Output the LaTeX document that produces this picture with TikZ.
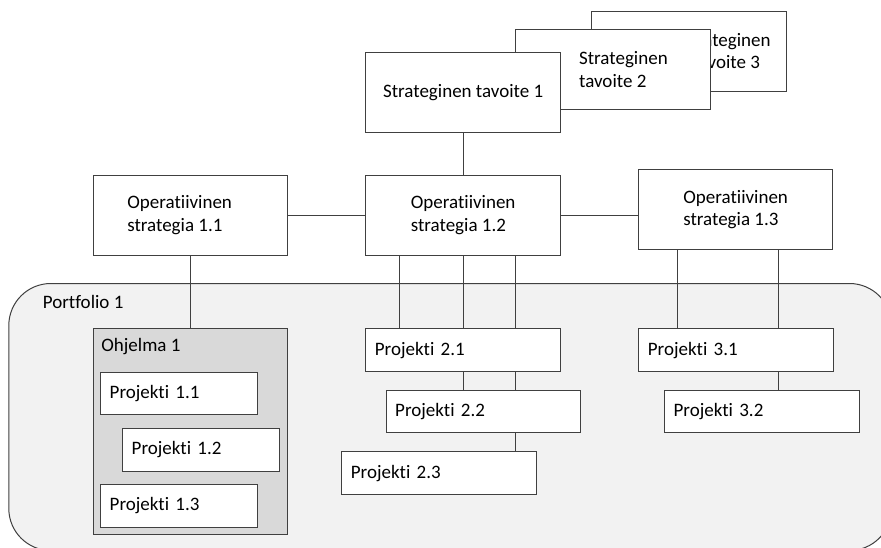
\documentclass[tikz,border=0pt]{standalone}
\usepackage{fontspec}
\setmainfont{Carlito}[Ligatures=NoCommon]
\usetikzlibrary{backgrounds}
\usetikzlibrary{positioning}
\definecolor{linegray}{HTML}{404040}
\definecolor{portfill}{HTML}{F2F2F2}
\definecolor{progfill}{HTML}{D9D9D9}

\begin{document}
\begin{tikzpicture}[
		every node/.style={font=\fontsize{19pt}{22.5pt}\selectfont},
		bigbox/.style={draw=linegray, fill=white, line width=1pt, minimum width=194.5pt, minimum height=80pt, align=left},
		projbox/.style={draw=linegray, fill=white, line width=1pt, minimum height=42.6pt, inner xsep=9pt, text width=176.5pt, align=left},
		smallbox/.style={projbox, text width=139pt},
		progbox/.style={draw=linegray, fill=progfill, line width=1pt, minimum width=194.5pt, minimum height=206pt},
		portbox/.style={draw=linegray, fill=portfill, line width=1pt, rounded corners=42pt},
		link/.style={draw=linegray, line width=1pt}
	]
	\useasboundingbox (0,0) rectangle (881pt,-547pt);

	% Portfolio area
	\begin{scope}[on background layer]
		\node[portbox, anchor=north west, minimum width=882.7pt, minimum height=267pt] (portfolio) at (8.3pt,-283pt) {};
	\end{scope}
	\node[anchor=base west, inner sep=0pt] (portlabel) at ([shift={(34.4pt,-25.7pt)}]portfolio.north west) {Portfolio 1};

	% Strategic goals, back to front
	\node[bigbox, align=center] (tav3) at (688.85pt,-51.2pt) {\hspace*{75pt}Strateginen\\\hspace*{75pt}tavoite 3};
	\node[bigbox, left=-119.8pt of tav3, yshift=-18.1pt] (tav2) {\hspace*{20.6pt}Strateginen\\\hspace*{20.6pt}tavoite 2};
	\node[bigbox, left=-45.5pt of tav2, yshift=-23pt] (tav1) {Strateginen tavoite 1};

	% Operative strategies
	\node[bigbox, below=42pt of tav1] (op12) {Operatiivinen\\strategia 1.2};
	\node[bigbox, left=77pt of op12] (op11) {Operatiivinen\hspace*{22pt}\\strategia 1.1};
	\node[bigbox, right=77pt of op12, yshift=5.6pt] (op13) {Operatiivinen\\strategia 1.3};

	% Programme
	\node[progbox, below=72.5pt of op11] (ohj) {};
	\node[anchor=base west, inner sep=0pt] (ohjlabel) at ([shift={(8.3pt,-22.7pt)}]ohj.north west) {Ohjelma 1};
	\node[smallbox, below right=43.4pt and 7.3pt of ohj.north west] (p11) {Projekti 1.1};
	\node[smallbox, below=12.7pt of p11, xshift=22pt] (p12) {Projekti 1.2};
	\node[smallbox, below=12.5pt of p12, xshift=-22pt] (p13) {Projekti 1.3};

	% Projects
	\node[projbox, below=72.6pt of op12] (p21) {Projekti 2.1};
	\node[projbox, below=17.7pt of p21, xshift=20.3pt] (p22) {Projekti 2.2};
	\node[projbox, below=18pt of p22, xshift=-44.3pt] (p23) {Projekti 2.3};
	\node[projbox, right=77.5pt of p21] (p31) {Projekti 3.1};
	\node[projbox, below=17.5pt of p31, xshift=25.7pt] (p32) {Projekti 3.2};

	% Links
	\begin{scope}[on background layer]
		\draw[link] (tav1.south) -- (op12.north);
		\draw[link] (op11.east) -- (op12.west);
		\draw[link] (op12.east) -- (op12.east -| op13.west);
		\draw[link] (op11.south) -- (ohj.north);
		\draw[link] ([xshift=-63.7pt]op12.south) -- ([xshift=-63.7pt]op12.south |- p21.north);
		\draw[link] (op12.south) -- (op12.south |- p22.north);
		\draw[link] ([xshift=52pt]op12.south) -- ([xshift=52pt]op12.south |- p23.north);
		\draw[link] ([xshift=-58pt]op13.south) -- ([xshift=-58pt]op13.south |- p31.north);
		\draw[link] ([xshift=43pt]op13.south) -- ([xshift=43pt]op13.south |- p32.north);
	\end{scope}

\end{tikzpicture}
\end{document}
